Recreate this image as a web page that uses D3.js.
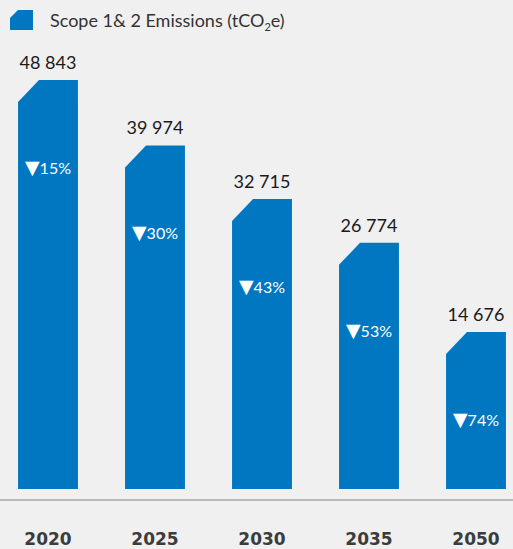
<!DOCTYPE html>
<html>
<head>
<meta charset="utf-8">
<script src="https://cdn.jsdelivr.net/npm/d3@7"></script>
<style>
  html, body { margin: 0; padding: 0; background: #f0f0f0; }
  svg { display: block; }
</style>
</head>
<body>
<svg id="chart" width="513" height="549"></svg>
<script>
// Scope 1 & 2 emissions trajectory (tCO2e) with reduction vs. baseline
const years = ["2020", "2025", "2030", "2035", "2050"];
const emissions = [48843, 39974, 32715, 26774, 14676];
const reductions = [15, 30, 43, 53, 74];
const legendLabel = "Scope 1& 2 Emissions (tCO";

const W = 513, H = 549;
const baseY = 489, topY = 80;
const axisY = 500;
const blue = "#0077c0";
const font = "Lato, 'Noto Sans', sans-serif";

const svg = d3.select("#chart");

svg.append("rect").attr("width", W).attr("height", H).attr("fill", "#f0f0f0");

const x = d3.scaleBand()
  .domain(years)
  .range([-5.5, 529.5])
  .paddingInner(0.44)
  .paddingOuter(0.22);

// value axis starts below zero so the smallest bar keeps visible height
const y = d3.scaleLinear()
  .domain([-6600, d3.max(emissions)])
  .range([baseY, topY]);

const fmt = v => d3.format(",")(v).replace(/,/g, " ");

// bar with clipped top-left corner
function barPath(x0, w, yTop, yBase) {
  const cx = 21, cy = 22;
  return `M${x0},${yTop + cy}L${x0 + cx},${yTop}L${x0 + w},${yTop}L${x0 + w},${yBase}L${x0},${yBase}Z`;
}

const data = years.map((yr, i) => ({ yr, v: emissions[i], r: reductions[i] }));

const g = svg.append("g");

g.selectAll("path.bar")
  .data(data)
  .join("path")
  .attr("class", "bar")
  .attr("d", d => barPath(x(d.yr), x.bandwidth(), y(d.v), y.range()[0]))
  .attr("fill", blue);

g.selectAll("text.val")
  .data(data)
  .join("text")
  .attr("class", "val")
  .attr("x", d => x(d.yr) + x.bandwidth() / 2)
  .attr("y", d => y(d.v) - 11)
  .attr("text-anchor", "middle")
  .attr("font-family", font)
  .attr("font-size", 18)
  .attr("fill", "#1a1a1a")
  .text(d => fmt(d.v));

const pct = g.selectAll("text.pct")
  .data(data)
  .join("text")
  .attr("class", "pct")
  .attr("x", d => x(d.yr) + x.bandwidth() / 2)
  .attr("y", d => y(d.v) + 94)
  .attr("text-anchor", "middle")
  .attr("font-family", font)
  .attr("font-size", 16)
  .attr("fill", "#ffffff");
pct.append("tspan")
  .attr("font-family", "'DejaVu Sans', sans-serif")
  .attr("font-size", 19)
  .text("\u25BC");
pct.append("tspan").text(d => d.r + "%");

// baseline axis
svg.append("line")
  .attr("x1", 0).attr("x2", W)
  .attr("y1", axisY).attr("y2", axisY)
  .attr("stroke", "#a6a6a6")
  .attr("stroke-width", 1.5);

const xAxis = d3.axisBottom(x).tickSize(0).tickPadding(0);
const ax = svg.append("g").attr("transform", `translate(0,${axisY})`).call(xAxis);
ax.select(".domain").remove();
ax.selectAll("text")
  .attr("y", 45)
  .attr("dy", 0)
  .attr("font-family", "'DejaVu Sans', sans-serif")
  .attr("font-weight", "bold")
  .attr("font-size", 17)
  .attr("fill", "#3c3c3c");

// legend
const lg = svg.append("g");
lg.append("path")
  .attr("d", "M10,18L18,10L33,10L33,30L10,30Z")
  .attr("fill", blue);
const lt = lg.append("text")
  .attr("x", 50).attr("y", 27)
  .attr("font-family", font)
  .attr("font-size", 18)
  .attr("fill", "#333333");
lt.append("tspan").text(legendLabel);
lt.append("tspan").attr("font-size", 11).attr("dy", 4).text("2");
lt.append("tspan").attr("dy", -4).text("e)");
</script>
</body>
</html>
